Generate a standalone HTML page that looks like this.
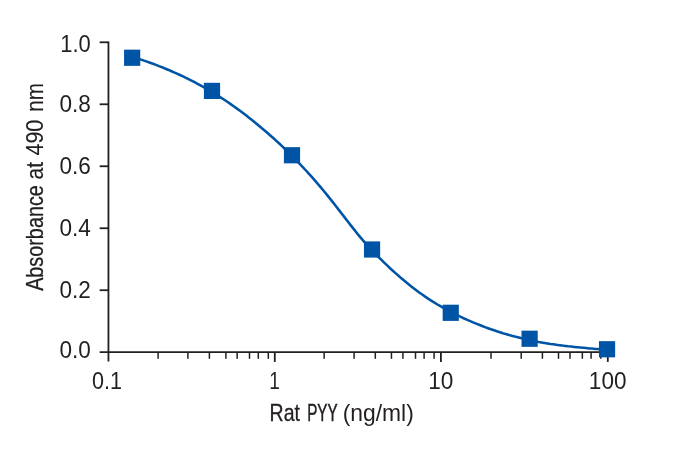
<!DOCTYPE html>
<html lang="en"><head><meta charset="utf-8"><title>Rat PYY standard curve</title>
<style>html,body{margin:0;padding:0;background:#fff}body{width:700px;height:449px;overflow:hidden}svg{display:block}text{font-family:"Liberation Sans",Arial,sans-serif;font-size:24px;fill:#231f20;stroke:#231f20;stroke-width:0}</style></head><body>
<svg width="700" height="449" viewBox="0 0 700 449">
<rect width="700" height="449" fill="#fff"/>
<g stroke="#231f20" stroke-width="1.8" fill="none" stroke-linecap="butt">
<path d="M108.45,41.40 V361.40"/>
<path d="M99.65,352.2 H608.70"/>
<path d="M99.65,290.22 H108.45"/>
<path d="M99.65,228.24 H108.45"/>
<path d="M99.65,166.26 H108.45"/>
<path d="M99.65,104.28 H108.45"/>
<path d="M99.65,42.30 H108.45"/>
<path d="M158.10,352.2 V358.80" stroke-width="1.5"/>
<path d="M187.90,352.2 V358.80" stroke-width="1.5"/>
<path d="M209.40,352.2 V358.80" stroke-width="1.5"/>
<path d="M225.90,352.2 V358.80" stroke-width="1.5"/>
<path d="M237.15,352.2 V358.80" stroke-width="1.5"/>
<path d="M249.50,352.2 V358.80" stroke-width="1.5"/>
<path d="M258.30,352.2 V358.80" stroke-width="1.5"/>
<path d="M268.30,352.2 V358.80" stroke-width="1.5"/>
<path d="M324.15,352.2 V358.80" stroke-width="1.5"/>
<path d="M354.10,352.2 V358.80" stroke-width="1.5"/>
<path d="M375.30,352.2 V358.80" stroke-width="1.5"/>
<path d="M391.45,352.2 V358.80" stroke-width="1.5"/>
<path d="M402.90,352.2 V358.80" stroke-width="1.5"/>
<path d="M415.50,352.2 V358.80" stroke-width="1.5"/>
<path d="M424.10,352.2 V358.80" stroke-width="1.5"/>
<path d="M434.10,352.2 V358.80" stroke-width="1.5"/>
<path d="M491.00,352.2 V358.80" stroke-width="1.5"/>
<path d="M521.20,352.2 V358.80" stroke-width="1.5"/>
<path d="M542.40,352.2 V358.80" stroke-width="1.5"/>
<path d="M558.50,352.2 V358.80" stroke-width="1.5"/>
<path d="M570.00,352.2 V358.80" stroke-width="1.5"/>
<path d="M582.35,352.2 V358.80" stroke-width="1.5"/>
<path d="M591.10,352.2 V358.80" stroke-width="1.5"/>
<path d="M600.80,352.2 V358.80" stroke-width="1.5"/>
<path d="M274.80,352.2 V361.90"/>
<path d="M440.90,352.2 V361.90"/>
<path d="M607.80,352.2 V361.90"/>
</g>
<path d="M132.0,56.6 L135.0,57.6 L138.0,58.6 L141.0,59.6 L144.0,60.6 L147.0,61.6 L150.0,62.7 L153.0,63.8 L156.0,64.9 L159.0,66.1 L162.0,67.2 L165.0,68.5 L168.0,69.7 L171.0,71.0 L174.0,72.3 L177.0,73.6 L180.0,75.0 L183.0,76.4 L186.0,77.8 L189.0,79.3 L192.0,80.8 L195.0,82.4 L198.0,84.0 L201.0,85.6 L204.0,87.3 L207.0,89.0 L210.0,90.8 L213.0,92.6 L216.0,94.5 L219.0,96.4 L222.0,98.3 L225.0,100.3 L228.0,102.3 L231.0,104.4 L234.0,106.5 L237.0,108.6 L240.0,110.8 L243.0,113.1 L246.0,115.3 L249.0,117.7 L252.0,120.0 L255.0,122.4 L258.0,124.9 L261.0,127.4 L264.0,129.9 L267.0,132.5 L270.0,135.2 L273.0,137.8 L276.0,140.6 L279.0,143.3 L282.0,146.1 L285.0,149.0 L288.0,151.9 L291.0,154.9 L294.0,157.9 L297.0,161.0 L300.0,164.1 L303.0,167.3 L306.0,170.5 L309.0,173.8 L312.0,177.2 L315.0,180.6 L318.0,184.1 L321.0,187.6 L324.0,191.2 L327.0,194.9 L330.0,198.6 L333.0,202.4 L336.0,206.2 L339.0,210.1 L342.0,214.0 L345.0,217.9 L348.0,221.8 L351.0,225.6 L354.0,229.4 L357.0,233.2 L360.0,236.9 L363.0,240.4 L366.0,243.9 L369.0,247.3 L372.0,250.5 L375.0,253.5 L377.9,256.5 L380.9,259.4 L383.9,262.3 L386.9,265.2 L389.8,268.0 L392.8,270.7 L395.8,273.4 L398.8,276.0 L401.7,278.6 L404.7,281.1 L407.7,283.5 L410.7,285.9 L413.6,288.2 L416.6,290.5 L419.6,292.7 L422.6,294.8 L425.5,296.9 L428.5,298.9 L431.5,300.8 L434.5,302.7 L437.4,304.5 L440.4,306.2 L443.4,307.9 L446.4,309.6 L449.3,311.2 L452.3,312.7 L455.3,314.3 L458.3,315.7 L461.2,317.1 L464.2,318.5 L467.2,319.8 L470.2,321.1 L473.1,322.4 L476.1,323.6 L479.1,324.8 L482.1,326.0 L485.0,327.1 L488.0,328.2 L491.0,329.3 L494.0,330.3 L496.9,331.3 L499.9,332.2 L502.9,333.2 L505.9,334.1 L508.8,334.9 L511.8,335.8 L514.8,336.6 L517.8,337.3 L520.7,338.1 L523.7,338.8 L526.7,339.5 L529.7,340.1 L532.6,340.7 L535.6,341.3 L538.6,341.9 L541.6,342.4 L544.5,342.9 L547.5,343.4 L550.5,343.9 L553.5,344.3 L556.4,344.8 L559.4,345.2 L562.4,345.6 L565.4,345.9 L568.3,346.3 L571.3,346.6 L574.3,346.9 L577.3,347.2 L580.2,347.5 L583.2,347.8 L586.2,348.1 L589.2,348.4 L592.1,348.6 L595.1,348.9 L598.1,349.1 L601.1,349.4 L604.0,349.6 L607.0,349.8" fill="none" stroke="#0054a6" stroke-width="2.55" stroke-linejoin="round"/>
<rect x="124.05" y="49.65" width="16.2" height="16.2" fill="#0054a6"/>
<rect x="203.90" y="82.80" width="16.2" height="16.2" fill="#0054a6"/>
<rect x="283.90" y="147.15" width="16.2" height="16.2" fill="#0054a6"/>
<rect x="363.95" y="241.40" width="16.2" height="16.2" fill="#0054a6"/>
<rect x="442.65" y="304.70" width="16.2" height="16.2" fill="#0054a6"/>
<rect x="521.50" y="330.65" width="16.2" height="16.2" fill="#0054a6"/>
<rect x="598.95" y="341.15" width="16.2" height="16.2" fill="#0054a6"/>
<text x="60.3" y="52.1" textLength="30.53" lengthAdjust="spacingAndGlyphs" id="y10" stroke-width="0.08">1.0</text>
<text x="59.49" y="112.0" textLength="31.4" lengthAdjust="spacingAndGlyphs" id="y08" stroke-width="0.08">0.8</text>
<text x="59.49" y="173.5" textLength="31.4" lengthAdjust="spacingAndGlyphs" id="y06" stroke-width="0.08">0.6</text>
<text x="59.49" y="236.1" textLength="31.4" lengthAdjust="spacingAndGlyphs" id="y04" stroke-width="0.08">0.4</text>
<text x="59.49" y="298.0" textLength="31.4" lengthAdjust="spacingAndGlyphs" id="y02" stroke-width="0.08">0.2</text>
<text x="59.49" y="358.4" textLength="31.4" lengthAdjust="spacingAndGlyphs" id="y00" stroke-width="0.08">0.0</text>
<text x="92.04" y="389.4" textLength="30.0" lengthAdjust="spacingAndGlyphs" id="x01" style="font-size:23.3px" stroke-width="0.08">0.1</text>
<text x="269.13" y="389.4" textLength="10.63" lengthAdjust="spacingAndGlyphs" id="x1" style="font-size:23.3px" stroke-width="0.08">1</text>
<text x="428.18" y="389.4" textLength="25.13" lengthAdjust="spacingAndGlyphs" id="x10" style="font-size:23.3px" stroke-width="0.08">10</text>
<text x="588.86" y="389.4" textLength="37.64" lengthAdjust="spacingAndGlyphs" id="x100" style="font-size:23.3px" stroke-width="0.08">100</text>
<text><tspan x="269.58" y="420.7" textLength="30.31" lengthAdjust="spacingAndGlyphs" id="t1" stroke-width="0.3">Rat</tspan> <tspan x="307.19" y="420.7" textLength="30.11" lengthAdjust="spacingAndGlyphs" id="t2" stroke-width="0.5">PYY</tspan> <tspan x="342.68" y="420.7" textLength="71.08" lengthAdjust="spacingAndGlyphs" id="t3">(ng/ml)</tspan></text>
<text transform="translate(43.1,0) rotate(-90)"><tspan x="-290.87" y="0" textLength="105.7" lengthAdjust="spacingAndGlyphs" id="v1" stroke-width="0.3">Absorbance</tspan> <tspan x="-179.40" y="0" textLength="17.47" lengthAdjust="spacingAndGlyphs" id="v2" stroke-width="0.15">at</tspan> <tspan x="-155.61" y="0" textLength="35.96" lengthAdjust="spacingAndGlyphs" id="v3" stroke-width="0.1">490</tspan> <tspan x="-111.66" y="0" textLength="28.53" lengthAdjust="spacingAndGlyphs" id="v4" stroke-width="0.2">nm</tspan></text>
</svg></body></html>
